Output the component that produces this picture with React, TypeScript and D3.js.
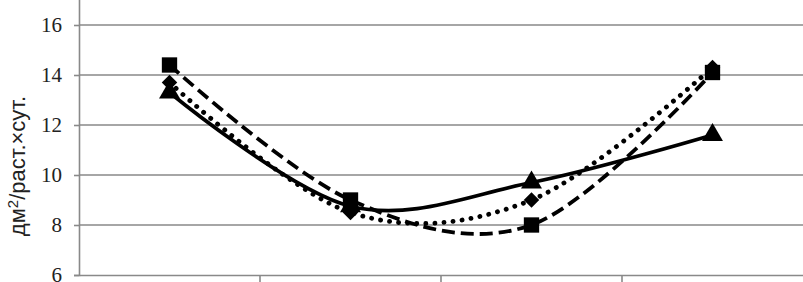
import React, { useEffect, useRef } from "react";
import * as d3 from "d3";

// четыре срока учёта
const categories = ["1", "2", "3", "4"];
const yTicks = [6, 8, 10, 12, 14, 16];

const seriesSolid = [13.3, 8.75, 9.7, 11.6]; // треугольники
const seriesDotted = [13.7, 8.5, 9.0, 14.3]; // ромбы
const seriesDashed = [14.4, 9.0, 8.0, 14.1]; // квадраты

const yLabelMain = "дм";
const yLabelSup = "2";
const yLabelRest = "/раст.×сут.";

const App = () => {
  const svgRef = useRef<SVGSVGElement>(null);
  const width = 803;
  const height = 282;

  useEffect(() => {
    const svg = d3.select(svgRef.current);
    svg.selectAll("*").remove();

    const left = 79;
    const bottom = 275;

    const x = d3.scaleBand().domain(categories).range([left, width]);
    const y = d3.scaleLinear().domain([6, 18]).range([bottom, -25]);

    const grid = "#898989";
    const serif = "'Liberation Serif', 'Times New Roman', serif";
    const sans = "'Liberation Sans', Arial, sans-serif";

    // gridlines
    svg
      .append("g")
      .selectAll("line")
      .data(yTicks.filter((d) => d > 6))
      .enter()
      .append("line")
      .attr("x1", left)
      .attr("x2", width)
      .attr("y1", (d) => y(d))
      .attr("y2", (d) => y(d))
      .style("stroke", grid)
      .style("stroke-width", 1.6);

    // y axis
    const yAxis = d3.axisLeft(y).tickValues(yTicks).tickSize(5).tickPadding(12);
    const gy = svg
      .append("g")
      .attr("transform", `translate(${left},0)`)
      .call(yAxis)
      .attr("font-family", null)
      .attr("font-size", null);
    gy.select(".domain").style("stroke", grid).style("stroke-width", 1.6);
    gy.selectAll(".tick line").style("stroke", grid).style("stroke-width", 1.6);
    gy.selectAll("text")
      .style("font-family", serif)
      .style("font-size", "21px")
      .style("fill", "#222");

    // x axis
    const xAxis = d3.axisBottom(x).tickFormat(() => "").tickSize(0);
    const gx = svg.append("g").attr("transform", `translate(0,${bottom})`).call(xAxis);
    gx.select(".domain").style("stroke", grid).style("stroke-width", 1.6);
    gx.selectAll(".tick").remove();
    gx.selectAll("line.sep")
      .data(categories.slice(1))
      .enter()
      .append("line")
      .attr("class", "sep")
      .attr("x1", (d) => x(d)!)
      .attr("x2", (d) => x(d)!)
      .attr("y1", 0)
      .attr("y2", 7)
      .style("stroke", grid)
      .style("stroke-width", 1.6);

    // y label
    const lbl = svg
      .append("text")
      .attr("transform", `translate(25,${166}) rotate(-90)`)
      .attr("text-anchor", "middle")
      .style("font-family", sans)
      .style("font-size", "22px")
      .style("fill", "#222");
    lbl.append("tspan").text(yLabelMain);
    lbl.append("tspan").attr("dy", -7).style("font-size", "15px").text(yLabelSup);
    lbl.append("tspan").attr("dy", 7).text(yLabelRest);

    const cx = (d: string) => x(d)! + x.bandwidth() / 2;
    const line = d3
      .line<number>()
      .x((_, i) => cx(categories[i]))
      .y((d) => y(d))
      .curve(d3.curveCardinal.tension(0));

    const series = [
      { values: seriesSolid, dash: null, cap: "butt", width: 3.6, symbol: d3.symbolTriangle, size: 190, rotate: 0 },
      { values: seriesDotted, dash: "0.1 9", cap: "round", width: 4.8, symbol: d3.symbolSquare, size: 120, rotate: 45 },
      { values: seriesDashed, dash: "13 6", cap: "butt", width: 3.8, symbol: d3.symbolSquare, size: 235, rotate: 0 },
    ];

    series.forEach((s) => {
      svg
        .append("path")
        .attr("d", line(s.values))
        .style("fill", "none")
        .style("stroke", "#000")
        .style("stroke-width", s.width)
        .style("stroke-linecap", s.cap)
        .style("stroke-dasharray", s.dash);

      svg
        .append("g")
        .selectAll("path")
        .data(s.values)
        .enter()
        .append("path")
        .attr("d", d3.symbol().type(s.symbol).size(s.size))
        .attr("transform", (d, i) => `translate(${cx(categories[i])},${y(d)}) rotate(${s.rotate})`)
        .style("fill", "#000");
    });
  }, []);

  return (
    <svg
      ref={svgRef}
      width={width}
      height={height}
      style={{ position: "absolute", left: 0, top: 0, background: "#fff" }}
    ></svg>
  );
};

export default App;
